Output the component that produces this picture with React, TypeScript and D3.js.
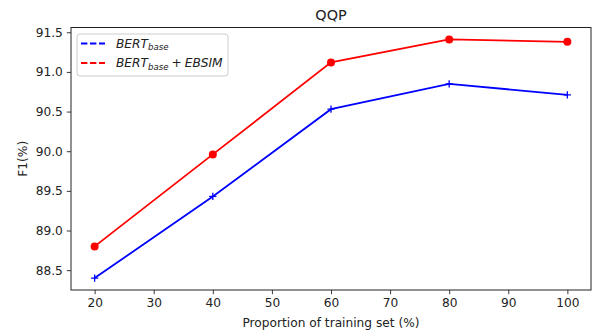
import { useEffect, useRef } from 'react';
import * as d3 from 'd3';

// proportions of training set (%)
const proportions = [ 20, 40, 60, 80, 100 ];
const bertBase = [ 88.40, 89.43, 90.53, 90.85, 90.71 ];
const bertEbsim = [ 88.80, 89.96, 91.12, 91.41, 91.38 ];
const xTicks = [ 20, 30, 40, 50, 60, 70, 80, 90, 100 ];
const yTicks = [ 88.5, 89.0, 89.5, 90.0, 90.5, 91.0, 91.5 ];

export default function App() {
  const svgRef = useRef<SVGSVGElement>( null );

  useEffect( () => {
    if ( !svgRef.current ) return;
    const width = 592;
    const height = 335;
    const margin = { top: 27.5, right: 1, bottom: 45, left: 71 };
    const font = '"DejaVu Sans", sans-serif';

    const svg = d3.select( svgRef.current );
    svg.selectAll( '*' ).remove();
    svg.attr( 'width', width ).attr( 'height', height ).style( 'font-family', font );

    const x = d3.scaleLinear().domain( [ 16, 104 ] ).range( [ margin.left, width - margin.right ] );
    const y = d3.scaleLinear().domain( [ 88.25, 91.56 ] ).range( [ height - margin.bottom, margin.top ] );

    // axes
    const xAxis = svg.append( 'g' )
      .attr( 'transform', `translate(0,${ height - margin.bottom })` )
      .call( d3.axisBottom( x ).tickValues( xTicks ).tickSize( 4.2 ).tickPadding( 4 ).tickFormat( d3.format( 'd' ) ) );
    const yAxis = svg.append( 'g' )
      .attr( 'transform', `translate(${ margin.left },0)` )
      .call( d3.axisLeft( y ).tickValues( yTicks ).tickSize( 4.2 ).tickPadding( 4 ).tickFormat( d3.format( '.1f' ) ) );
    [ xAxis, yAxis ].forEach( a => {
      a.select( '.domain' ).remove();
      a.selectAll( 'text' ).attr( 'font-size', 12.2 ).attr( 'font-family', font ).attr( 'fill', '#222' );
      a.selectAll( 'line' ).attr( 'stroke', '#222' ).attr( 'stroke-width', 0.9 );
    } );

    // frame
    svg.append( 'rect' )
      .attr( 'x', margin.left ).attr( 'y', margin.top )
      .attr( 'width', width - margin.right - margin.left )
      .attr( 'height', height - margin.bottom - margin.top )
      .attr( 'fill', 'none' ).attr( 'stroke', '#222' ).attr( 'stroke-width', 1 );

    const line = d3.line<number>()
      .x( ( _, i ) => x( proportions[ i ] ) )
      .y( d => y( d ) );

    // blue series with + markers
    svg.append( 'path' ).datum( bertBase ).attr( 'd', line )
      .attr( 'fill', 'none' ).attr( 'stroke', 'blue' ).attr( 'stroke-width', 1.8 );
    svg.append( 'g' ).selectAll( 'path' ).data( bertBase ).join( 'path' )
      .attr( 'd', ( d, i ) => {
        const cx = x( proportions[ i ] ), cy = y( d ), s = 3.6;
        return `M${ cx - s },${ cy }H${ cx + s }M${ cx },${ cy - s }V${ cy + s }`;
      } )
      .attr( 'stroke', 'blue' ).attr( 'stroke-width', 1.3 );

    // red series with circle markers
    svg.append( 'path' ).datum( bertEbsim ).attr( 'd', line )
      .attr( 'fill', 'none' ).attr( 'stroke', 'red' ).attr( 'stroke-width', 1.8 );
    svg.append( 'g' ).selectAll( 'circle' ).data( bertEbsim ).join( 'circle' )
      .attr( 'cx', ( _, i ) => x( proportions[ i ] ) )
      .attr( 'cy', d => y( d ) )
      .attr( 'r', 4 )
      .attr( 'fill', 'red' );

    // title and labels
    svg.append( 'text' )
      .attr( 'x', ( margin.left + width - margin.right ) / 2 ).attr( 'y', 20 )
      .attr( 'text-anchor', 'middle' ).attr( 'font-size', 14.4 ).attr( 'fill', '#222' )
      .text( 'QQP' );
    svg.append( 'text' )
      .attr( 'x', ( margin.left + width - margin.right ) / 2 ).attr( 'y', 327 )
      .attr( 'text-anchor', 'middle' ).attr( 'font-size', 12.2 ).attr( 'fill', '#222' )
      .text( 'Proportion of training set (%)' );
    svg.append( 'text' )
      .attr( 'transform', `translate(27,${ ( margin.top + height - margin.bottom ) / 2 }) rotate(-90)` )
      .attr( 'text-anchor', 'middle' ).attr( 'font-size', 12.2 ).attr( 'fill', '#222' )
      .text( 'F1(%)' );

    // legend
    const lg = svg.append( 'g' );
    lg.append( 'rect' )
      .attr( 'x', 77 ).attr( 'y', 34 ).attr( 'width', 151 ).attr( 'height', 42 ).attr( 'rx', 3 )
      .attr( 'fill', 'white' ).attr( 'fill-opacity', 0.8 ).attr( 'stroke', '#ccc' ).attr( 'stroke-width', 1 );
    const entries = [
      { color: 'blue', yPos: 43.5, extra: false },
      { color: 'red', yPos: 63, extra: true },
    ];
    entries.forEach( e => {
      lg.append( 'line' )
        .attr( 'x1', 81 ).attr( 'x2', 105 ).attr( 'y1', e.yPos ).attr( 'y2', e.yPos )
        .attr( 'stroke', e.color ).attr( 'stroke-width', 1.8 ).attr( 'stroke-dasharray', '6.4,2.6' );
      const t = lg.append( 'text' )
        .attr( 'x', 116 ).attr( 'y', e.yPos + 4.3 ).attr( 'font-size', 12.2 ).attr( 'fill', '#222' );
      t.append( 'tspan' ).attr( 'font-style', 'italic' ).text( 'BERT' );
      t.append( 'tspan' ).attr( 'font-style', 'italic' ).attr( 'font-size', 8.6 ).attr( 'dy', 2.5 ).text( 'base' );
      if ( e.extra ) {
        t.append( 'tspan' ).attr( 'dy', -2.5 ).attr( 'dx', 3 ).text( '+' );
        t.append( 'tspan' ).attr( 'dx', 3 ).attr( 'font-style', 'italic' ).text( 'EBSIM' );
      }
    } );
  }, [] );

  return (
    <div style={ { position: 'absolute', left: 0, top: 0 } }>
      <svg ref={ svgRef } style={ { display: 'block', background: 'white' } } />
    </div>
  );
}
